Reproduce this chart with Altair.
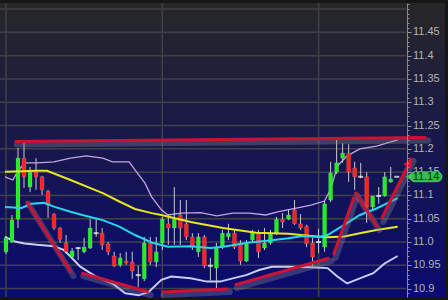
import altair as alt
import pandas as pd

# ---------------- data ----------------
opens = [10.979, 11.000, 11.049, 11.180, 11.118, 11.150, 11.140, 11.109, 11.060, 11.030,
         10.998, 10.968, 10.987, 10.979, 10.987, 11.019, 11.019, 10.996, 10.970, 10.951,
         10.959, 10.957, 10.929, 10.921, 10.998, 10.957, 10.998, 11.039, 11.030, 11.058,
         11.039, 11.011, 10.979, 11.011, 10.949, 10.944, 10.989, 11.011, 11.019, 10.998,
         10.959, 11.004, 11.019, 10.987, 10.998, 11.019, 11.049, 11.049, 11.069, 11.039,
         11.034, 10.998, 11.000, 10.989, 11.090, 11.150, 11.180, 11.191, 11.159, 11.140,
         11.140, 11.075, 11.099, 11.099, 11.129, 11.140]
highs = [11.013, 11.058, 11.202, 11.212, 11.161, 11.180, 11.142, 11.112, 11.062, 11.032,
         11.015, 10.987, 10.989, 11.009, 11.049, 11.052, 11.030, 11.000, 10.979, 10.976,
         10.979, 10.979, 10.949, 11.011, 11.011, 11.011, 11.054, 11.058, 11.118, 11.090,
         11.090, 11.019, 11.019, 11.015, 10.966, 10.998, 11.026, 11.039, 11.026, 11.004,
         11.004, 11.026, 11.026, 11.030, 11.026, 11.054, 11.062, 11.069, 11.090, 11.060,
         11.037, 11.009, 11.028, 11.088, 11.172, 11.219, 11.212, 11.210, 11.172, 11.170,
         11.150, 11.099, 11.118, 11.150, 11.161, 11.140]
lows = [10.974, 10.998, 11.030, 11.116, 11.107, 11.112, 11.101, 11.052, 11.026, 10.998,
        10.976, 10.966, 10.961, 10.976, 10.985, 11.011, 10.983, 10.972, 10.946, 10.946,
        10.951, 10.921, 10.903, 10.916, 10.951, 10.946, 10.983, 10.994, 10.994, 10.994,
        11.004, 10.983, 10.968, 10.944, 10.918, 10.901, 10.985, 11.004, 10.985, 10.951,
        10.957, 11.000, 10.966, 10.983, 10.994, 11.015, 11.030, 11.047, 11.037, 11.026,
        10.989, 10.949, 10.976, 10.979, 11.086, 11.146, 11.170, 11.129, 11.112, 11.137,
        11.041, 11.067, 11.082, 11.097, 11.127, 11.140]
closes = [11.009, 11.047, 11.180, 11.140, 11.150, 11.140, 11.112, 11.079, 11.030, 11.006,
          10.979, 10.981, 10.987, 10.989, 11.030, 11.019, 10.994, 10.979, 10.949, 10.966,
          10.955, 10.938, 10.929, 10.998, 10.957, 10.979, 11.049, 11.030, 11.049, 11.030,
          11.011, 10.989, 11.011, 10.949, 10.949, 10.989, 11.019, 11.019, 10.989, 10.959,
          10.998, 11.019, 10.979, 10.998, 11.019, 11.049, 11.043, 11.058, 11.039, 11.030,
          10.996, 10.968, 11.000, 11.082, 11.148, 11.170, 11.191, 11.150, 11.140, 11.140,
          11.075, 11.099, 11.099, 11.140, 11.135, 11.140]

# moving averages / bands: (bar index, price) points
ma_slow_x = [-0.16, 5.20, 6.83, 10.73, 16.10, 18.86, 21.46, 24.23, 25.85, 30.73, 36.10,
             41.63, 46.99, 50.73, 53.50, 56.26, 58.86, 61.63, 65.15]
ma_slow_y = [11.151, 11.153, 11.153, 11.133, 11.105, 11.087, 11.071, 11.062, 11.058, 11.043,
             11.030, 11.020, 11.018, 11.013, 11.010, 11.012, 11.019, 11.026, 11.033]

ma_fast_x = [-0.16, 2.60, 4.23, 6.34, 7.97, 10.73, 13.33, 16.10, 18.86, 21.46, 24.23, 26.94,
             30.73, 33.98, 36.10, 40.49, 44.23, 46.99, 49.43, 52.20, 53.50, 56.26, 58.86,
             61.63, 65.15]
ma_fast_y = [11.075, 11.073, 11.082, 11.084, 11.076, 11.065, 11.056, 11.047, 11.033, 11.015,
             10.999, 10.990, 10.991, 10.987, 10.990, 10.999, 11.004, 11.008, 11.013, 11.011,
             11.015, 11.037, 11.058, 11.072, 11.094]

band_up_x = [-0.16, 1.14, 1.95, 3.09, 5.20, 7.97, 10.73, 13.33, 16.10, 17.72, 20.49, 21.46,
             23.09, 24.23, 25.85, 26.94, 29.11, 32.36, 35.07, 37.72, 40.49, 43.20, 45.37,
             48.08, 50.73, 52.96, 53.98, 55.12, 56.75, 58.86, 61.63, 65.15]
band_up_y = [11.140, 11.133, 11.151, 11.170, 11.170, 11.172, 11.180, 11.185, 11.180, 11.172,
             11.172, 11.155, 11.127, 11.097, 11.069, 11.058, 11.062, 11.063, 11.056, 11.062,
             11.062, 11.058, 11.065, 11.072, 11.079, 11.088, 11.112, 11.163, 11.185, 11.200,
             11.206, 11.219]

band_lo_x = [-0.16, 1.46, 3.09, 5.20, 7.97, 9.59, 10.73, 12.36, 14.96, 17.72, 19.84, 22.11,
             23.74, 25.85, 27.48, 30.73, 33.45, 35.61, 37.72, 39.95, 42.11, 44.23, 46.99,
             50.73, 53.50, 55.12, 56.75, 58.86, 61.09, 62.98, 65.15]
band_lo_y = [11.011, 11.001, 10.997, 10.994, 10.991, 10.983, 10.969, 10.947, 10.926, 10.911,
             10.890, 10.886, 10.893, 10.919, 10.926, 10.922, 10.915, 10.915, 10.922, 10.929,
             10.940, 10.947, 10.947, 10.946, 10.944, 10.926, 10.911, 10.922, 10.933, 10.954,
             10.970]

# hand-drawn trend lines (segment id, bar index, price)
trend_seg = [0, 0, 1, 1, 2, 2, 3, 3, 4, 4, 5, 5, 6, 6, 7, 7]
trend_x = [1.46, 69.92, 3.41, 10.89, 12.52, 23.74, 25.85, 36.91, 38.05, 53.82,
           54.47, 57.89, 58.05, 61.79, 62.44, 67.48]
trend_y = [11.2157, 11.2242, 11.088, 10.9335, 10.9335, 10.8927, 10.8927, 10.8991,
           10.9077, 10.9657, 10.9721, 11.0966, 11.1073, 11.0322, 11.0494, 11.1803]

major_ticks = [10.9, 10.95, 11.0, 11.05, 11.1, 11.15, 11.2, 11.25, 11.3, 11.35, 11.4, 11.45]
tick_labels = ["10.9", "10.95", "11.0", "11.05", "11.1", "11.15", "11.2", "11.25", "11.3",
               "11.35", "11.4", "11.45"]
grid_levels = [10.9, 10.95, 11.0, 11.05, 11.1, 11.15, 11.2, 11.25, 11.3, 11.35, 11.4, 11.45, 11.5]
minor_ticks = [round(10.89 + 0.01 * k, 2) for k in range(63)]
session_breaks = [0, 26, 52]
last_price = "11.14"

# ---------------- tables ----------------
n = len(closes)
candles = pd.DataFrame({"i": list(range(n)), "o": opens, "h": highs, "l": lows, "c": closes})
candles["kind"] = ["up" if c > o else ("down" if c < o else "doji")
                   for o, c in zip(opens, closes)]
bodies = candles[candles["kind"] != "doji"]
dojis = candles[candles["kind"] == "doji"]

def line_df(xs, ys):
    return pd.DataFrame({"i": xs, "v": ys})

trend = pd.DataFrame({"seg": trend_seg, "i": trend_x, "v": trend_y})
arrow_tip = trend.iloc[[-1]]

xs = alt.Scale(domain=[-0.163, 72.195], nice=False, zero=False)
ys = alt.Scale(domain=[10.882, 11.513], nice=False, zero=False)

def X(f="i"):
    return alt.X(f"{f}:Q", scale=xs, axis=None)

def Y(f, axis=None):
    return alt.Y(f"{f}:Q", scale=ys, axis=axis)

FONT = "Liberation Sans"

bg = alt.Chart(pd.DataFrame({"a": [0]})).mark_rect(
    color=alt.LinearGradient(
        gradient="linear", x1=0, x2=0, y1=0, y2=1,
        stops=[alt.GradientStop(offset=0, color="#272727"),
               alt.GradientStop(offset=0.45, color="#18184a"),
               alt.GradientStop(offset=1, color="#0a0a70")])
).encode(x=alt.value(0), x2=alt.value("width"), y=alt.value(0), y2=alt.value("height"))

hgrid = alt.Chart(pd.DataFrame({"v": grid_levels})).mark_rule(
    color="#404048", strokeWidth=1.5
).encode(y=Y("v"), x=alt.value(0), x2=alt.value(406))

vgrid = alt.Chart(pd.DataFrame({"i": session_breaks})).mark_rule(
    color="#404048", strokeWidth=1.5
).encode(x=X(), y=alt.value(0), y2=alt.value("height"))

def curve(xv, yv, color, w):
    return alt.Chart(line_df(xv, yv)).mark_line(color=color, strokeWidth=w, clip=True).encode(
        x=X(), y=Y("v"))

upper = curve(band_up_x, band_up_y, "#c4a4dc", 1.3)
lower = curve(band_lo_x, band_lo_y, "#c8ccff", 2)
slow = curve(ma_slow_x, ma_slow_y, "#e6e61a", 2)
fast = curve(ma_fast_x, ma_fast_y, "#26d6ea", 2)

wicks = alt.Chart(candles).mark_rule(color="#c8c8c8", strokeWidth=1).encode(
    x=X(), y=Y("l"), y2="h:Q")

body = alt.Chart(bodies).mark_bar(size=4, stroke="#ffffff", strokeWidth=0.3, strokeOpacity=0.4).encode(
    x=X(), y=Y("o"), y2="c:Q",
    color=alt.Color("kind:N", scale=alt.Scale(domain=["up", "down"], range=["#22ee22", "#ff2222"]),
                    legend=None))

doji = alt.Chart(dojis).mark_tick(orient="horizontal", size=5, thickness=2, color="#ffffff").encode(
    x=X(), y=Y("c"))

shadow = alt.Chart(trend).mark_line(color="#8a8a92", strokeWidth=6, opacity=0.35,
                                    xOffset=2, yOffset=3, strokeCap="round").encode(
    x=X(), y=Y("v"), detail="seg:N")
red = alt.Chart(trend).mark_line(color="#cc1232", strokeWidth=3, strokeCap="butt").encode(
    x=X(), y=Y("v"), detail="seg:N")
head = alt.Chart(arrow_tip).mark_point(
    shape="M0,0L-0.6,1.3L0.6,1.3Z", angle=27, size=220, filled=True, color="#dd1030", opacity=1
).encode(x=X(), y=Y("v"))

axis_major = alt.Chart(pd.DataFrame({"v": major_ticks})).mark_point(opacity=0).encode(
    y=Y("v", axis=alt.Axis(orient="right", offset=-38, values=major_ticks, grid=False, zindex=1,
                           domainColor="#8a8a8a", domainWidth=1, tickColor="#9a9a9a",
                           tickSize=4, labels=False, title=None)))
axis_minor = alt.Chart(pd.DataFrame({"v": minor_ticks})).mark_point(opacity=0).encode(
    y=Y("v", axis=alt.Axis(orient="right", offset=-38, values=minor_ticks, grid=False, zindex=1,
                           domain=False, labels=False, tickColor="#8a8a8a", tickSize=2,
                           title=None)))
axis_text = alt.Chart(pd.DataFrame({"v": major_ticks, "t": tick_labels})).mark_text(
    font=FONT, fontSize=11, color="#b4b4b4", align="left", baseline="middle"
).encode(x=alt.value(413), y=Y("v"), text="t:N")

price = pd.DataFrame({"v": [closes[-1]], "t": [last_price]})
pill = alt.Chart(price).mark_rect(color="#2fbf4a", cornerRadius=5, yOffset=-5, y2Offset=5,
                                  stroke="#7ae08a", strokeWidth=0.6).encode(
    x=alt.value(410), x2=alt.value(442), y=Y("v"), y2="v:Q")
pill_tip = alt.Chart(price).mark_point(shape="triangle-left", size=40, filled=True,
                                       color="#2fbf4a", opacity=1).encode(
    x=alt.value(408), y=Y("v"))
pill_text = alt.Chart(price).mark_text(font=FONT, fontSize=11, color="#0b2a0b").encode(
    x=alt.value(426), y=Y("v"), text="t:N")

chart = alt.layer(
    bg, hgrid, vgrid, axis_minor, axis_major, axis_text, upper, lower, wicks, body, doji,
    slow, fast, shadow, red, head, pill_tip, pill, pill_text
).resolve_axis(y="independent").properties(
    width=445, height=294,
    padding={"left": 0, "top": 3, "right": 3, "bottom": 3},
    autosize=alt.AutoSizeParams(type="none"),
    background="#161616",
).configure_view(strokeWidth=0)

chart.save("out.html", embed_options={"renderer": "svg", "actions": False})
